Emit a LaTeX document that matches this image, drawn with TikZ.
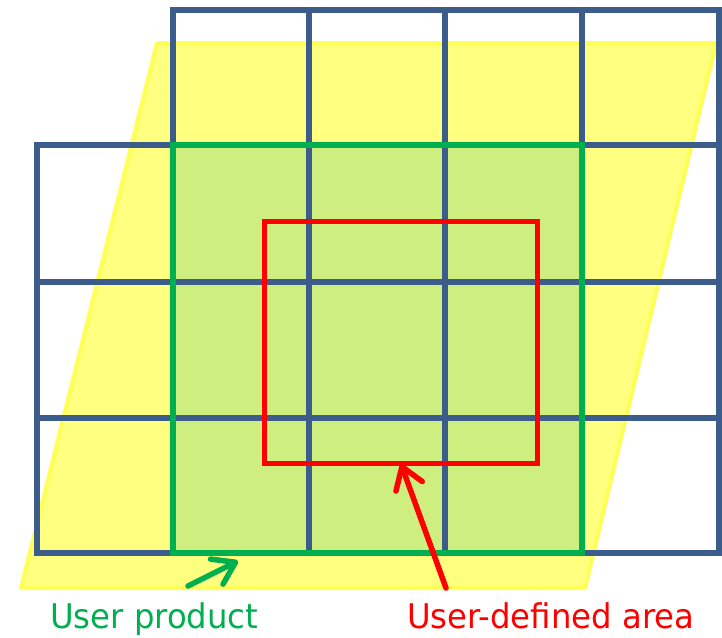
\documentclass[tikz,border=0pt]{standalone}
\usepackage{fontspec}
\newfontfamily\labelfont[FakeStretch=0.95]{DejaVu Sans}
\usetikzlibrary{arrows.meta}
\definecolor{gridblue}{HTML}{3C5C8C}
\definecolor{prodgreen}{HTML}{00B050}
\definecolor{prodfill}{HTML}{CFEE80}
\definecolor{swathfill}{HTML}{FFFF80}
\definecolor{swathedge}{HTML}{FFFF55}
\definecolor{areared}{HTML}{FF0000}
\tikzset{
  gridline/.style={draw=gridblue, line width=5.5pt, line cap=rect},
  swath/.style={fill=swathfill, draw=swathedge, line width=4pt, line join=round},
  product/.style={draw=prodgreen, line width=5.5pt, line join=miter},
  userarea/.style={draw=areared, line width=5pt, line join=miter},
  pointer/.style={line width=5.5pt, line cap=round,
    -{Straight Barb[length=21pt,width=28pt,line cap=round,round]}},
  caption/.style={font=\labelfont\fontsize{34}{40}\selectfont, inner sep=0pt, anchor=base west}
}
\begin{document}
\begin{tikzpicture}[x=1pt,y=-1pt]
\useasboundingbox (0,0) rectangle (722,637);

% slanted acquisition footprint
\path[swath] (157,43) -- (716,43) -- (585,588) -- (21,588) -- cycle;

% product extent fill
\fill[prodfill] (173,145) rectangle (582,553);

% tile grid
\foreach \x in {173,309,445,582,719}
  \draw[gridline] (\x,10) -- (\x,553);
\draw[gridline] (37,145) -- (37,553);
\draw[gridline] (173,10) -- (719,10);
\foreach \y in {145,282,418,553}
  \draw[gridline] (37,\y) -- (719,\y);

% product outline and requested area
\draw[product] (173,145) rectangle (582,553);
\draw[userarea] (264,221) rectangle (537,463);

% captions
\node[caption, text=prodgreen] (prodlabel) at (50,628) {User product};
\node[caption, text=areared] (arealabel) at (407,628) {User-defined area};

% pointers
\coordinate (prodtail) at (188,586);
\coordinate (prodtip) at (238,561);
\coordinate (areatail) at (446,588);
\coordinate (areatip) at (401,464);
\draw[pointer, draw=prodgreen] (prodtail) -- (prodtip);
\draw[pointer, draw=areared] (areatail) -- (areatip);
\end{tikzpicture}
\end{document}
